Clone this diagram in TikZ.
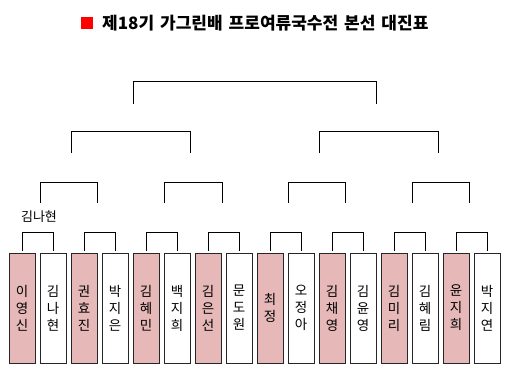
\documentclass[tikz,border=0pt]{standalone}
\usepackage{fontspec}
\usepackage{xcolor}
\usepackage{tikz}
\usetikzlibrary{positioning}
\setmainfont{Noto Sans CJK KR}
\definecolor{SeedPink}{HTML}{E6B9B8}
\definecolor{TitleRed}{HTML}{FF0000}

\begin{document}
\begin{tikzpicture}[
  x=1pt,y=-1pt,
  node distance=5pt,
  player/.style={draw=black!85,line width=0.8pt,fill=white,minimum width=26pt,minimum height=110pt,inner sep=0pt,outer sep=0pt,align=center,font=\fontsize{13.5pt}{17pt}\selectfont},
  seed/.style={player,fill=SeedPink},
  bracket/.style={draw=black,line width=1pt}
]
\useasboundingbox (0,0) rectangle (514,375);
% title
\node[fill=TitleRed,minimum size=12pt,inner sep=0pt] (mark) at (87,23) {};
\node[anchor=west,inner sep=0pt,font=\fontsize{17pt}{20pt}\selectfont\bfseries] (title) at (102,23.5) {\spaceskip=6pt\relax 제18기 가그린배 프로여류국수전 본선 대진표};
% players
\node[seed] (p1) at (22,308) {이\\영\\신};
\node[player,right=of p1] (p2) {김\\나\\현};
\node[seed,right=of p2] (p3) {권\\효\\진};
\node[player,right=of p3] (p4) {박\\지\\은};
\node[seed,right=of p4] (p5) {김\\혜\\민};
\node[player,right=of p5] (p6) {백\\지\\희};
\node[seed,right=of p6] (p7) {김\\은\\선};
\node[player,right=of p7] (p8) {문\\도\\원};
\node[seed,right=of p8] (p9) {최\\정};
\node[player,right=of p9] (p10) {오\\정\\아};
\node[seed,right=of p10] (p11) {김\\채\\영};
\node[player,right=of p11] (p12) {김\\윤\\영};
\node[seed,right=of p12] (p13) {김\\미\\리};
\node[player,right=of p13] (p14) {김\\혜\\림};
\node[seed,right=of p14] (p15) {윤\\지\\희};
\node[player,right=of p15] (p16) {박\\지\\연};
% winner of first match
\node[font=\fontsize{13pt}{15pt}\selectfont] (win1) at (39,217) {김나현};
% round of 16
\draw[bracket] ([yshift=2pt]p1.north) -- ++(0,-19) -| ([yshift=2pt]p2.north);
\draw[bracket] ([yshift=2pt]p3.north) -- ++(0,-19) -| ([yshift=2pt]p4.north);
\draw[bracket] ([yshift=2pt]p5.north) -- ++(0,-19) -| ([yshift=2pt]p6.north);
\draw[bracket] ([yshift=2pt]p7.north) -- ++(0,-19) -| ([yshift=2pt]p8.north);
\draw[bracket] ([yshift=2pt]p9.north) -- ++(0,-19) -| ([yshift=2pt]p10.north);
\draw[bracket] ([yshift=2pt]p11.north) -- ++(0,-19) -| ([yshift=2pt]p12.north);
\draw[bracket] ([yshift=2pt]p13.north) -- ++(0,-19) -| ([yshift=2pt]p14.north);
\draw[bracket] ([yshift=2pt]p15.north) -- ++(0,-19) -| ([yshift=2pt]p16.north);
% quarter finals
\coordinate (q1a) at (40.7,203); \coordinate (q1b) at (97.7,203);
\coordinate (q2a) at (164,203);  \coordinate (q2b) at (222,203);
\coordinate (q3a) at (288,203);  \coordinate (q3b) at (345.7,203);
\coordinate (q4a) at (412,203);  \coordinate (q4b) at (469.7,203);
\draw[bracket] (q1a) -- ++(0,-21) -| (q1b);
\draw[bracket] (q2a) -- ++(0,-21) -| (q2b);
\draw[bracket] (q3a) -- ++(0,-21) -| (q3b);
\draw[bracket] (q4a) -- ++(0,-21) -| (q4b);
% semi finals
\coordinate (s1a) at (71.3,153);  \coordinate (s1b) at (190.3,153);
\coordinate (s2a) at (319.3,153); \coordinate (s2b) at (438.3,153);
\draw[bracket] (s1a) -- ++(0,-22) -| (s1b);
\draw[bracket] (s2a) -- ++(0,-22) -| (s2b);
% final
\coordinate (fa) at (133.3,103.7); \coordinate (fb) at (376.3,103.7);
\draw[bracket] (fa) -- ++(0,-22.4) -| (fb);
\end{tikzpicture}
\end{document}
